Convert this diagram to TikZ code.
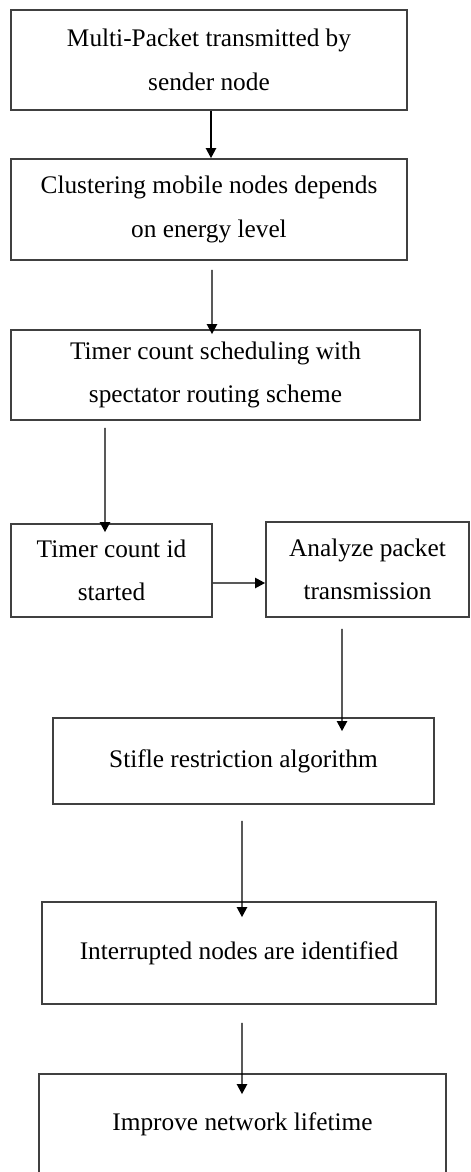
\documentclass[tikz,border=0pt]{standalone}
\usepackage{fontspec}
\setmainfont{Liberation Serif}
\usetikzlibrary{arrows.meta}

\tikzset{
    stage/.style={draw=black!75, line width=1.3pt, align=center, inner sep=0pt,
        font=\fontsize{18}{31}\selectfont},
    flow/.style={line width=0.9pt, -{Triangle[length=0.25cm,width=0.26cm]}}
}

\begin{document}
\begin{tikzpicture}[x=0.025cm, y=-0.025cm]

    % page size
    \useasboundingbox (0,0) rectangle (471,1172);

    % boxes
    \node[stage, minimum width=9.9cm, minimum height=2.5cm] (send) at (209,60)
        {Multi-Packet transmitted by\\sender node};
    \node[stage, minimum width=9.9cm, minimum height=2.525cm] (cluster) at (209,209.5)
        {Clustering mobile nodes depends\\on energy level};
    \node[stage, minimum width=10.225cm, minimum height=2.25cm] (sched) at (215.5,375)
        {Timer count scheduling with\\spectator routing scheme};
    \node[stage, minimum width=5.025cm, minimum height=2.325cm] (timer) at (111.5,570.5)
        {Timer count id\\started};
    \node[stage, minimum width=5.075cm, minimum height=2.375cm] (analyze) at (367.5,569.5)
        {Analyze packet\\transmission};
    \node[stage, minimum width=9.525cm, minimum height=2.15cm] (stifle) at (243.5,761)
        {Stifle restriction algorithm};
    \node[stage, minimum width=9.85cm, minimum height=2.55cm] (interrupt) at (239,953)
        {Interrupted nodes are identified};
    \node[stage, minimum width=10.175cm, minimum height=2.5cm] (improve) at (242.5,1124)
        {Improve network lifetime};

    % arrows
    \draw[flow] ([xshift=0.05cm]send.south) -- ([xshift=0.05cm]cluster.north);
    \draw[flow] ([xshift=0.075cm,yshift=-0.225cm]cluster.south)
        -- ([xshift=-0.0875cm,yshift=-0.125cm]sched.north);
    \draw[flow] ([xshift=-2.7625cm,yshift=-0.175cm]sched.south)
        -- ([xshift=-0.1625cm,yshift=-0.225cm]timer.north);
    \draw[flow] ([yshift=-0.3125cm]timer.east) -- ([yshift=-0.3375cm]analyze.west);
    \draw[flow] ([xshift=-0.6375cm,yshift=-0.275cm]analyze.south)
        -- ([xshift=2.4625cm,yshift=-0.35cm]stifle.north);
    \draw[flow] ([xshift=-0.0375cm,yshift=-0.4cm]stifle.south)
        -- ([xshift=0.075cm,yshift=-0.4cm]interrupt.north);
    \draw[flow] ([xshift=0.075cm,yshift=-0.45cm]interrupt.south)
        -- ([xshift=-0.0125cm,yshift=-0.525cm]improve.north);

\end{tikzpicture}
\end{document}
